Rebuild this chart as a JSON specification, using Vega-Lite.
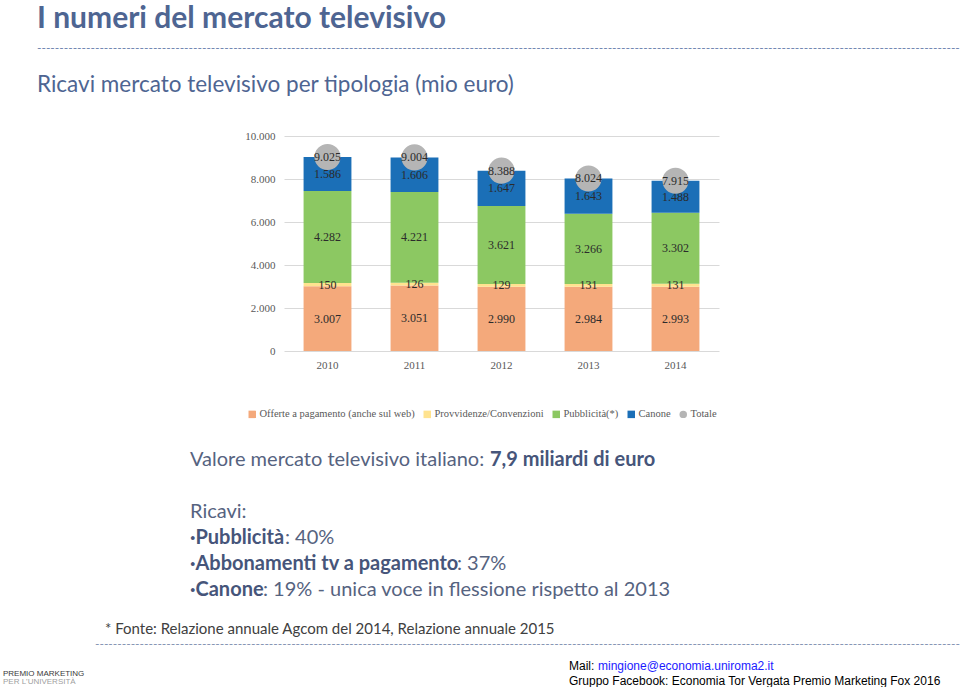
{
  "$schema": "https://vega.github.io/schema/vega-lite/v6.json",
  "background": "white",
  "padding": {"left": 3, "top": 3, "right": 0, "bottom": 0},
  "config": {
    "locale": {"number": {"decimal": ",", "thousands": ".", "grouping": [3], "currency": ["", " €"]}},
    "view": {"stroke": null},
    "font": "Lato"
  },
  "title": {
    "text": "I numeri del mercato televisivo",
    "subtitle": "------------------------------------------------------------------------------------------------------------------------------------------------------------------------------------------------------------------------------------------------------------",
    "anchor": "start",
    "dx": 34,
    "font": "Lato",
    "fontSize": 30,
    "fontWeight": "bold",
    "color": "#4e6592",
    "subtitleFont": "Lato",
    "subtitleFontSize": 12,
    "subtitleColor": "#6a80ad",
    "subtitlePadding": 9,
    "offset": 20
  },
  "spacing": 0,
  "vconcat": [
    {
      "hconcat": [
        {
          "width": 435,
          "height": 215,
          "title": {
            "text": "Ricavi mercato televisivo per tipologia (mio euro)",
            "anchor": "start",
            "frame": "group",
            "dx": -247,
            "font": "Lato",
            "fontSize": 22.5,
            "fontWeight": "normal",
            "color": "#4e6592",
            "offset": 34
          },
          "layer": [
            {
              "data": {"name": "ricavi", "values": [
                {"anno": "2010", "voce": "Offerte a pagamento (anche sul web)", "ordine": 1, "valore": 3007},
                {"anno": "2010", "voce": "Provvidenze/Convenzioni", "ordine": 2, "valore": 150},
                {"anno": "2010", "voce": "Pubblicità(*)", "ordine": 3, "valore": 4282},
                {"anno": "2010", "voce": "Canone", "ordine": 4, "valore": 1586},
                {"anno": "2011", "voce": "Offerte a pagamento (anche sul web)", "ordine": 1, "valore": 3051},
                {"anno": "2011", "voce": "Provvidenze/Convenzioni", "ordine": 2, "valore": 126},
                {"anno": "2011", "voce": "Pubblicità(*)", "ordine": 3, "valore": 4221},
                {"anno": "2011", "voce": "Canone", "ordine": 4, "valore": 1606},
                {"anno": "2012", "voce": "Offerte a pagamento (anche sul web)", "ordine": 1, "valore": 2990},
                {"anno": "2012", "voce": "Provvidenze/Convenzioni", "ordine": 2, "valore": 129},
                {"anno": "2012", "voce": "Pubblicità(*)", "ordine": 3, "valore": 3621},
                {"anno": "2012", "voce": "Canone", "ordine": 4, "valore": 1647},
                {"anno": "2013", "voce": "Offerte a pagamento (anche sul web)", "ordine": 1, "valore": 2984},
                {"anno": "2013", "voce": "Provvidenze/Convenzioni", "ordine": 2, "valore": 131},
                {"anno": "2013", "voce": "Pubblicità(*)", "ordine": 3, "valore": 3266},
                {"anno": "2013", "voce": "Canone", "ordine": 4, "valore": 1643},
                {"anno": "2014", "voce": "Offerte a pagamento (anche sul web)", "ordine": 1, "valore": 2993},
                {"anno": "2014", "voce": "Provvidenze/Convenzioni", "ordine": 2, "valore": 131},
                {"anno": "2014", "voce": "Pubblicità(*)", "ordine": 3, "valore": 3302},
                {"anno": "2014", "voce": "Canone", "ordine": 4, "valore": 1488}
              ]},
              "mark": {"type": "bar"},
              "encoding": {
                "x": {"field": "anno", "type": "nominal",
                  "scale": {"paddingInner": 0.45, "paddingOuter": 0.225},
                  "axis": {"title": null, "labelAngle": 0, "labelFont": "Liberation Serif", "labelFontSize": 11, "labelColor": "#595959", "ticks": false, "domain": false, "labelPadding": 8}},
                "y": {"field": "valore", "type": "quantitative", "stack": "zero",
                  "scale": {"domain": [0, 10000]},
                  "axis": {"title": null, "values": [0, 1000, 2000, 3000, 4000, 5000, 6000, 7000, 8000, 9000, 10000], "format": ",d", "labelOverlap": false, "labelFont": "Liberation Serif", "labelFontSize": 11, "labelColor": "#595959", "ticks": false, "domain": false, "labelPadding": 9, "gridColor": "#d9d9d9", "minExtent": 281}},
                "color": {"field": "voce", "type": "nominal",
                  "scale": {"domain": ["Offerte a pagamento (anche sul web)", "Provvidenze/Convenzioni", "Pubblicità(*)", "Canone", "Totale"],
                            "range": ["#f4a97b", "#ffe38f", "#8cc862", "#1b6fb7", "#b5b5b5"]},
                  "legend": {"orient": "none", "legendX": -37, "legendY": 273, "direction": "horizontal", "title": null,
                    "symbolType": "square", "symbolSize": 56, "symbolStrokeWidth": 0,
                    "labelFont": "Liberation Serif", "labelFontSize": 10.5, "labelColor": "#595959", "labelLimit": 400,
                    "columnPadding": 7, "labelOffset": 2,
                    "encode": {"symbols": {"update": {"shape": {"signal": "datum.label === 'Totale' ? 'circle' : 'square'"}}}}}},
                "order": {"field": "ordine", "type": "quantitative"}
              }
            },
            {
              "data": {"name": "ricavi"},
              "mark": {"type": "text", "font": "Liberation Serif", "fontSize": 12, "color": "#2b2b2b"},
              "encoding": {
                "x": {"field": "anno", "type": "nominal"},
                "y": {"field": "valore", "type": "quantitative", "stack": "zero", "bandPosition": 0.5},
                "detail": {"field": "voce"},
                "order": {"field": "ordine", "type": "quantitative"},
                "text": {"field": "valore", "type": "quantitative", "format": ",d"}
              }
            },
            {
              "data": {"name": "totali", "values": [
                {"anno": "2010", "totale": 9025},
                {"anno": "2011", "totale": 9004},
                {"anno": "2012", "totale": 8388},
                {"anno": "2013", "totale": 8024},
                {"anno": "2014", "totale": 7915}
              ]},
              "mark": {"type": "point", "filled": true, "opacity": 1, "size": 680},
              "encoding": {
                "x": {"field": "anno", "type": "nominal"},
                "y": {"field": "totale", "type": "quantitative"},
                "color": {"datum": "Totale"}
              }
            },
            {
              "data": {"name": "totali"},
              "mark": {"type": "text", "font": "Liberation Serif", "fontSize": 12, "color": "#2b2b2b"},
              "encoding": {
                "x": {"field": "anno", "type": "nominal"},
                "y": {"field": "totale", "type": "quantitative"},
                "text": {"field": "totale", "type": "quantitative", "format": ",d"}
              }
            }
          ]
        }
      ]
    },
    {
      "width": 10,
      "height": 182,
      "data": {"values": [
        {"riga": 1, "etichetta": "Valore mercato televisivo italiano:", "valore": "7,9 miliardi di euro"},
        {"riga": 3, "etichetta": "Ricavi:", "valore": ""},
        {"riga": 4, "etichetta": "·Pubblicità", "valore": ": 40%"},
        {"riga": 5, "etichetta": "·Abbonamenti tv a pagamento", "valore": ": 37%"},
        {"riga": 6, "etichetta": "·Canone", "valore": ": 19% - unica voce in flessione rispetto al 2013"}
      ]},
      "encoding": {
        "y": {"field": "riga", "type": "ordinal", "scale": {"domain": [1, 2, 3, 4, 5, 6], "padding": 1, "align": 0.5}, "axis": null}
      },
      "layer": [
        {"transform": [{"filter": "datum.riga <= 3"}],
         "mark": {"type": "text", "align": "left", "dx": -99, "dy": 64, "font": "Lato", "fontSize": 20, "color": "#56637f"},
         "encoding": {"text": {"field": "etichetta"}}},
        {"transform": [{"filter": "datum.riga == 1"}],
         "mark": {"type": "text", "align": "left", "dx": 201, "dy": 64, "font": "Lato", "fontSize": 20, "fontWeight": "bold", "color": "#46557a"},
         "encoding": {"text": {"field": "valore"}}},
        {"transform": [{"filter": "datum.riga >= 4"}],
         "mark": {"type": "text", "align": "left", "dx": -99, "dy": 64, "font": "Lato", "fontSize": 20, "fontWeight": "bold", "color": "#46557a"},
         "encoding": {"text": {"field": "etichetta"}}},
        {"transform": [{"filter": "datum.riga == 4"}],
         "mark": {"type": "text", "align": "left", "dx": -4, "dy": 64, "font": "Lato", "fontSize": 20, "color": "#56637f"},
         "encoding": {"text": {"field": "valore"}}},
        {"transform": [{"filter": "datum.riga == 5"}],
         "mark": {"type": "text", "align": "left", "dx": 168, "dy": 64, "font": "Lato", "fontSize": 20, "color": "#56637f"},
         "encoding": {"text": {"field": "valore"}}},
        {"transform": [{"filter": "datum.riga == 6"}],
         "mark": {"type": "text", "align": "left", "dx": -26, "dy": 64, "font": "Lato", "fontSize": 20, "color": "#56637f"},
         "encoding": {"text": {"field": "valore"}}}
      ]
    },
    {
      "width": 10,
      "height": 72.5,
      "data": {"values": [
        {"riga": 1, "ruolo": "nota", "testo": "* Fonte: Relazione annuale Agcom del 2014, Relazione annuale 2015", "extra": ""},
        {"riga": 2, "ruolo": "separatore", "testo": "---------------------------------------------------------------------------------------------------------------------------------------------------------------------------------------------------------------------------------", "extra": ""},
        {"riga": 3, "ruolo": "contatto", "testo": "Mail:", "extra": "mingione@economia.uniroma2.it"},
        {"riga": 4, "ruolo": "contatto", "testo": "Gruppo Facebook: Economia Tor Vergata Premio Marketing Fox 2016", "extra": ""},
        {"riga": 3, "ruolo": "logo", "testo": "PREMIO MARKETING", "extra": ""},
        {"riga": 4, "ruolo": "logo", "testo": "PER L'UNIVERSITÀ", "extra": ""}
      ]},
      "encoding": {
        "y": {"field": "riga", "type": "ordinal", "scale": {"domain": [1, 2, 3, 4], "padding": 1, "align": 1}, "axis": null}
      },
      "layer": [
        {"transform": [{"filter": "datum.ruolo == 'nota'"}],
         "mark": {"type": "text", "align": "left", "dx": -184, "font": "Lato", "fontSize": 15, "color": "#404040"},
         "encoding": {"text": {"field": "testo"}}},
        {"transform": [{"filter": "datum.ruolo == 'separatore'"}],
         "mark": {"type": "text", "align": "left", "dx": -194, "font": "Lato", "fontSize": 12, "color": "#7f8fb0"},
         "encoding": {"text": {"field": "testo"}}},
        {"transform": [{"filter": "datum.ruolo == 'contatto'"}],
         "mark": {"type": "text", "align": "left", "dx": 280, "dy": 8, "font": "Liberation Sans", "fontSize": 12, "color": "#000000"},
         "encoding": {"text": {"field": "testo"}}},
        {"transform": [{"filter": "datum.ruolo == 'contatto' && datum.riga == 3"}],
         "mark": {"type": "text", "align": "left", "dx": 309, "dy": 8, "font": "Liberation Sans", "fontSize": 12, "color": "#1a1aff"},
         "encoding": {"text": {"field": "extra"}}},
        {"transform": [{"filter": "datum.ruolo == 'logo' && datum.riga == 3"}],
         "mark": {"type": "text", "align": "left", "dx": -286, "dy": 16, "font": "Liberation Sans", "fontSize": 8, "color": "#3a3a3a"},
         "encoding": {"text": {"field": "testo"}}},
        {"transform": [{"filter": "datum.ruolo == 'logo' && datum.riga == 4"}],
         "mark": {"type": "text", "align": "left", "dx": -286, "dy": 9.5, "font": "Liberation Sans", "fontSize": 8, "color": "#a0a0a0"},
         "encoding": {"text": {"field": "testo"}}}
      ]
    }
  ]
}
